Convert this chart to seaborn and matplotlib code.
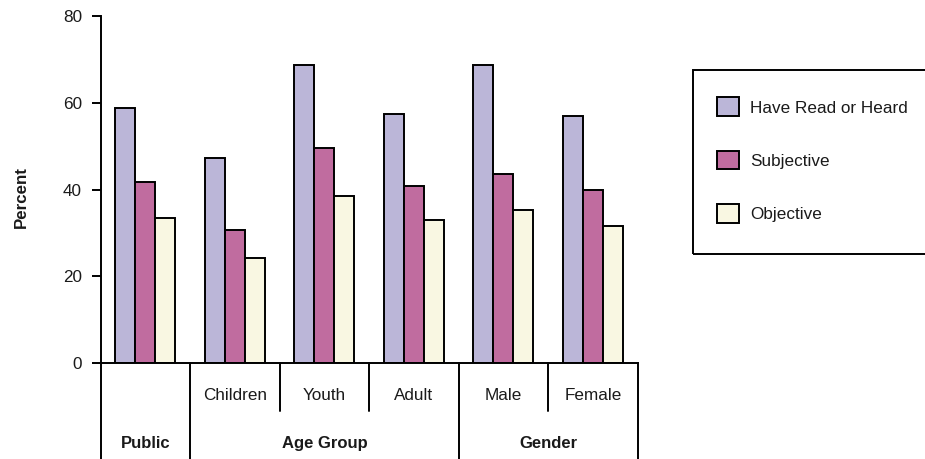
import matplotlib
matplotlib.use("Agg")
import matplotlib.pyplot as plt
import matplotlib.transforms as mtransforms
from matplotlib.patches import Patch, Rectangle
from matplotlib.lines import Line2D
import pandas as pd
import seaborn as sns

# --- data -------------------------------------------------------------
subgroups = ["Public", "Children", "Youth", "Adult", "Male", "Female"]
subgroup_labels = ["", "Children", "Youth", "Adult", "Male", "Female"]
groups = ["Public", "Age Group", "Gender"]
group_spans = [(0, 1), (1, 4), (4, 6)]          # subgroup index ranges
series = ["Have Read or Heard", "Subjective", "Objective"]
have_read = [58.8, 47.3, 68.8, 57.4, 68.8, 56.9]
subjective = [41.8, 30.7, 49.5, 40.8, 43.6, 39.9]
objective = [33.5, 24.3, 38.5, 33.0, 35.3, 31.7]
colors = ["#BBB6D8", "#C06C9F", "#F9F7E2"]

df = pd.DataFrame({
    "subgroup": subgroups * 3,
    "series": [s for s in series for _ in subgroups],
    "value": have_read + subjective + objective,
})

# --- figure -------------------------------------------------------------
sns.set_theme(style="white")
plt.rcParams["font.family"] = ["Liberation Sans", "DejaVu Sans"]
text_color = "#1a1a1a"

W, H = 925, 459
fig = plt.figure(figsize=(W / 100, H / 100), dpi=100)
ax_l, ax_r, ax_t, ax_b = 100.7, 637.7, 16.0, 363.3
ax = fig.add_axes([ax_l / W, 1 - ax_b / H, (ax_r - ax_l) / W, (ax_b - ax_t) / H])

sns.barplot(data=df, x="subgroup", y="value", hue="series", order=subgroups,
            hue_order=series, palette=colors, width=0.67, edgecolor="black",
            linewidth=1.4, saturation=1, legend=False, ax=ax)

ax.set_xlim(-0.5, len(subgroups) - 0.5)
ax.set_ylim(0, 80)
ax.set_yticks([0, 20, 40, 60, 80])
ax.tick_params(axis="y", direction="out", length=6.5, width=1.4, pad=7,
               labelsize=12.3, colors="black", labelcolor=text_color, left=True)
ax.set_xticks([])
ax.set_xlabel("")
ax.set_ylabel("")
for side in ["top", "right"]:
    ax.spines[side].set_visible(False)
for side in ["left", "bottom"]:
    ax.spines[side].set_linewidth(1.4)
    ax.spines[side].set_color("black")

fig.text(21.7 / W, 1 - 197 / H, "Percent", rotation=90, fontsize=12.2,
         fontweight="bold", ha="center", va="center", color=text_color)

# --- hierarchical category axis -------------------------------------------
trans = mtransforms.blended_transform_factory(ax.transData, ax.transAxes)
px = ax_b - ax_t
short_y = -(410.7 - ax_b) / px
long_y = -(470 - ax_b) / px
sub_text_y = -(395 - ax_b) / px
grp_text_y = -(443 - ax_b) / px

group_edges = {a for a, b in group_spans} | {b for a, b in group_spans}
for i in range(len(subgroups) + 1):
    x = i - 0.5
    y_end = long_y if i in group_edges else short_y
    ax.add_line(Line2D([x, x], [0, y_end], transform=trans, color="black",
                       linewidth=1.4, clip_on=False))

for i, lab in enumerate(subgroup_labels):
    ax.text(i, sub_text_y, lab, transform=trans, ha="center", va="center",
            fontsize=12.3, color=text_color)

for name, (a, b) in zip(groups, group_spans):
    ax.text((a + b - 1) / 2, grp_text_y, name, transform=trans, ha="center",
            va="center", fontsize=12, fontweight="bold", color=text_color)

# --- legend ---------------------------------------------------------------
fig.patches.append(Rectangle((693 / W, 1 - 254 / H), (930 - 693) / W, (254 - 70) / H,
                             transform=fig.transFigure, fill=False,
                             edgecolor="black", linewidth=1.4))
handles = [Patch(facecolor=c, edgecolor="black", linewidth=1.4) for c in colors]
fs = 12.3
leg = fig.legend(handles, series, loc="upper left",
                 bbox_to_anchor=(717 / W, 1 - 97.5 / H), frameon=False, fontsize=fs,
                 borderpad=0, borderaxespad=0, handlelength=1.3, handleheight=1.3,
                 handletextpad=0.65, labelspacing=2.03)
for t in leg.get_texts():
    t.set_color(text_color)

fig.savefig("out.png", dpi=100)
